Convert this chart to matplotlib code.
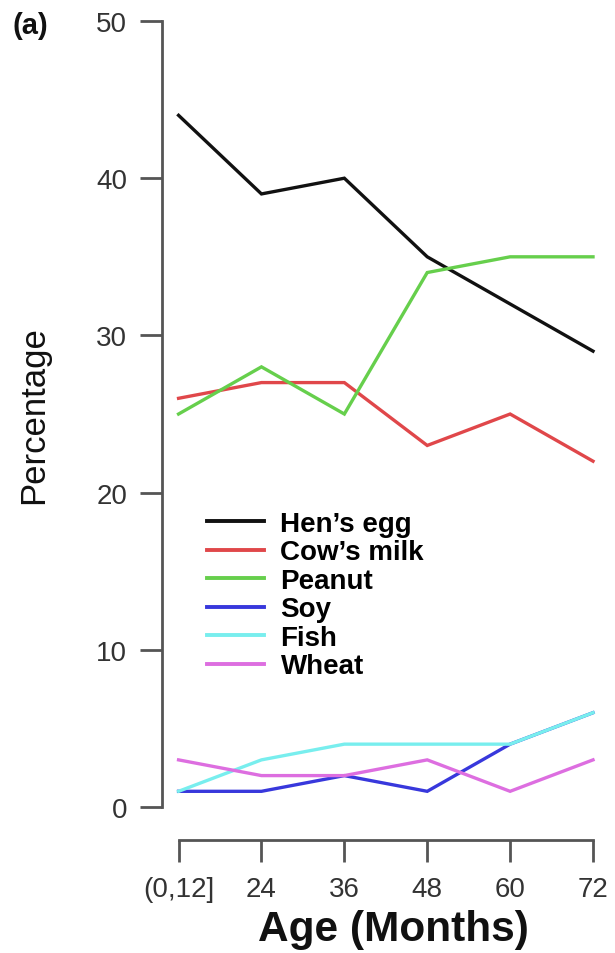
"""Food allergen sensitisation by age: six allergen series on an R-style axis."""

import matplotlib
matplotlib.use("Agg")
import matplotlib.pyplot as plt
from matplotlib.lines import Line2D

plt.rcParams["font.family"] = ["Liberation Sans", "DejaVu Sans"]

AGE_LABELS = ["(0,12]", "24", "36", "48", "60", "72"]
AGE_POS = [1, 2, 3, 4, 5, 6]

HENS_EGG = [44, 39, 40, 35, 32, 29]
COWS_MILK = [26, 27, 27, 23, 25, 22]
PEANUT = [25, 28, 25, 34, 35, 35]
SOY = [1, 1, 2, 1, 4, 6]
FISH = [1, 3, 4, 4, 4, 6]
WHEAT = [3, 2, 2, 3, 1, 3]

SERIES = [
    ("Hen\u2019s egg", HENS_EGG, "#111111"),
    ("Cow\u2019s milk", COWS_MILK, "#e0474a"),
    ("Peanut", PEANUT, "#66cf4c"),
    ("Soy", SOY, "#3838dc"),
    ("Fish", FISH, "#78eeee"),
    ("Wheat", WHEAT, "#dd6ee0"),
]

AXIS_GREY = "#555555"
LABEL_GREY = "#333333"


def main() -> None:
    fig = plt.figure(figsize=(6.15, 9.54), dpi=100)
    fig.patch.set_facecolor("white")
    ax = fig.add_axes([0.2634, 0.1184, 0.7278, 0.8816])

    for name, values, color in SERIES:
        ax.plot(AGE_POS, values, color=color, linewidth=2.4,
                solid_joinstyle="miter", label=name)

    ax.set_xlim(0.8, 6.2)
    ax.set_ylim(-2.1, 51.4)

    # R-style axes: lines only span the first to last tick
    for side in ("top", "right"):
        ax.spines[side].set_visible(False)
    ax.spines["left"].set_bounds(0, 50)
    ax.spines["bottom"].set_bounds(1, 6)
    for side in ("left", "bottom"):
        ax.spines[side].set_color(AXIS_GREY)
        ax.spines[side].set_linewidth(2.0)

    ax.set_xticks(AGE_POS)
    ax.set_xticklabels(AGE_LABELS)
    ax.set_yticks([0, 10, 20, 30, 40, 50])
    ax.tick_params(axis="both", direction="out", length=16, width=2.0,
                   color=AXIS_GREY, labelcolor=LABEL_GREY, labelsize=20)
    ax.tick_params(axis="y", pad=9)
    ax.tick_params(axis="x", pad=10)

    handles = [Line2D([], [], color=c, linewidth=2.8) for _, _, c in SERIES]
    labels = [n for n, _, _ in SERIES]
    ax.legend(
        handles, labels,
        loc="upper left",
        bbox_to_anchor=(193 / 615, 1 - 498 / 954),
        bbox_transform=fig.transFigure,
        frameon=False,
        handlelength=2.05,
        handletextpad=0.6,
        labelspacing=0.09,
        borderpad=0.0,
        prop={"weight": "bold", "size": 20},
    )

    fig.text(34 / 615, 1 - 415 / 954, "Percentage", rotation=90,
             ha="center", va="center", fontsize=25, color="#111111")
    fig.text(393 / 615, 1 - 930 / 954, "Age (Months)",
             ha="center", va="center", fontsize=30.5, fontweight="bold",
             color="#111111")
    fig.text(12 / 615, 1 - 26 / 954, "(a)", ha="left", va="center",
             fontsize=21, fontweight="bold", color="#111111")

    fig.savefig("out.png", dpi=100, facecolor="white")
    plt.close(fig)


if __name__ == "__main__":
    main()
